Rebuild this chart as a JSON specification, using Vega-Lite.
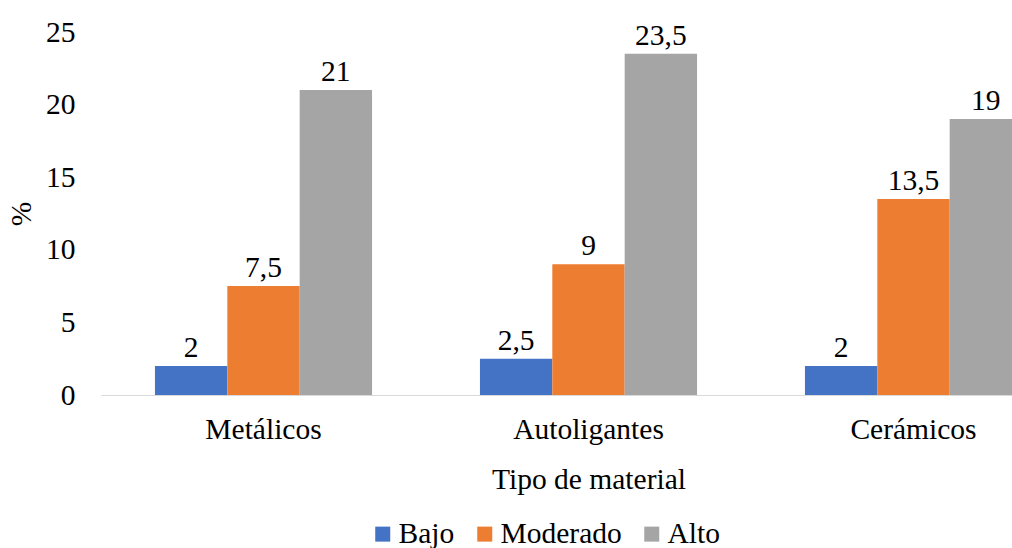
{
  "$schema": "https://vega.github.io/schema/vega-lite/v6.json",
  "autosize": {"type": "none"},
  "padding": {"left": 101, "top": 32, "right": 0, "bottom": 153},
  "width": 911,
  "height": 363,
  "background": "white",
  "config": {
    "font": "'Liberation Serif', 'Times New Roman', serif",
    "view": {"stroke": null},
    "text": {"font": "'Liberation Serif', 'Times New Roman', serif"},
    "legend": {"labelFont": "'Liberation Serif', 'Times New Roman', serif"},
    "locale": {"number": {"decimal": ",", "thousands": ".", "grouping": [3], "currency": ["", " €"]}}
  },
  "data": {"values": [
    {"material": "Metálicos", "nivel": "Bajo", "pct": 2},
    {"material": "Metálicos", "nivel": "Moderado", "pct": 7.5},
    {"material": "Metálicos", "nivel": "Alto", "pct": 21},
    {"material": "Autoligantes", "nivel": "Bajo", "pct": 2.5},
    {"material": "Autoligantes", "nivel": "Moderado", "pct": 9},
    {"material": "Autoligantes", "nivel": "Alto", "pct": 23.5},
    {"material": "Cerámicos", "nivel": "Bajo", "pct": 2},
    {"material": "Cerámicos", "nivel": "Moderado", "pct": 13.5},
    {"material": "Cerámicos", "nivel": "Alto", "pct": 19}
  ]},
  "encoding": {
    "x": {
      "field": "material", "type": "nominal",
      "sort": ["Metálicos", "Autoligantes", "Cerámicos"],
      "scale": {"range": [0, 975], "paddingInner": 0.332, "paddingOuter": 0.166},
      "axis": {
        "title": "Tipo de material",
        "titleFont": "'Liberation Serif', 'Times New Roman', serif", "titleFontSize": 29.5, "titleFontWeight": "normal", "titleColor": "black",
        "titlePadding": 22, "titleX": 487.5,
        "labelFont": "'Liberation Serif', 'Times New Roman', serif", "labelFontSize": 29.5, "labelColor": "black", "labelPadding": 20,
        "labelAngle": 0,
        "ticks": false, "domain": true, "domainColor": "#d9d9d9", "domainWidth": 1
      }
    },
    "xOffset": {"field": "nivel", "type": "nominal", "sort": ["Bajo", "Moderado", "Alto"], "scale": {"paddingInner": 0, "paddingOuter": 0}},
    "y": {
      "field": "pct", "type": "quantitative",
      "scale": {"domain": [0, 25], "nice": false},
      "axis": {
        "title": "%", "values": [0, 5, 10, 15, 20, 25],
        "titleFont": "'Liberation Serif', 'Times New Roman', serif", "titleFontSize": 29.5, "titleFontWeight": "normal", "titleColor": "black",
        "titlePadding": 9,
        "labelFont": "'Liberation Serif', 'Times New Roman', serif", "labelFontSize": 29.5, "labelColor": "black", "labelPadding": 26,
        "ticks": false, "domain": false, "grid": false
      }
    }
  },
  "layer": [
    {
      "mark": {"type": "bar", "clip": true},
      "encoding": {
        "color": {
          "field": "nivel", "type": "nominal", "sort": ["Bajo", "Moderado", "Alto"],
          "scale": {"domain": ["Bajo", "Moderado", "Alto"], "range": ["#4472C4", "#ED7D31", "#A5A5A5"]},
          "legend": {
            "title": null, "orient": "none", "direction": "horizontal",
            "legendX": 267, "legendY": 487,
            "symbolType": "square", "symbolSize": 225, "symbolStrokeWidth": 0,
            "labelFont": "'Liberation Serif', 'Times New Roman', serif", "labelFontSize": 29.5, "labelColor": "black",
            "labelOffset": 1, "columnPadding": 15
          }
        }
      }
    },
    {
      "mark": {"type": "text", "baseline": "alphabetic", "dy": -9, "fontSize": 29.5, "font": "'Liberation Serif', 'Times New Roman', serif", "color": "black", "clip": false},
      "encoding": {
        "text": {"field": "pct", "type": "quantitative", "format": "~g"}
      }
    }
  ]
}
